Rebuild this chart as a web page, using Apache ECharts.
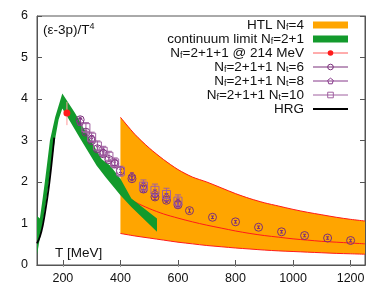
<!DOCTYPE html>
<html>
<head>
<meta charset="utf-8">
<script src="https://cdn.jsdelivr.net/npm/echarts@6/dist/echarts.min.js"></script>
<style>
html,body{margin:0;padding:0;background:#fff;}
#c{width:390px;height:293px;}
</style>
</head>
<body>
<div id="c"></div>
<script>
// ---- data ----
const xTicks = [200, 400, 600, 800, 1000, 1200];
const yTicks = [0, 1, 2, 3, 4, 5, 6];

// HTL Nf=4 band (upper / central / lower)
const htlT     = [400, 450, 500, 550, 600, 650, 700, 750, 800, 850, 900, 950, 1000, 1050, 1100, 1150, 1200, 1250];
const htlUpper = [3.56, 3.15, 2.82, 2.54, 2.30, 2.12, 2.00, 1.86, 1.72, 1.60, 1.50, 1.42, 1.34, 1.27, 1.21, 1.15, 1.10, 1.06];
const htlMid   = [1.72, 1.52, 1.36, 1.23, 1.13, 1.04, 0.96, 0.89, 0.82, 0.76, 0.71, 0.67, 0.63, 0.60, 0.57, 0.55, 0.53, 0.51];
const htlLower = [0.76, 0.70, 0.65, 0.60, 0.55, 0.51, 0.47, 0.44, 0.41, 0.385, 0.36, 0.34, 0.325, 0.31, 0.295, 0.28, 0.27, 0.26];

// continuum limit Nf=2+1 band
const contUpperT = [110, 120, 130, 138, 155, 173, 198, 242, 280, 335, 364, 400, 438, 527];
const contUpperV = [1.18, 1.12, 1.62, 2.04, 3.00, 3.56, 4.13, 3.66, 3.20, 2.55, 2.40, 2.08, 1.60, 1.12];
const contLowerT = [110, 120, 130, 140, 150, 160, 172, 185, 198, 220, 260, 317, 350, 400, 438, 527];
const contLowerV = [0.24, 0.65, 1.00, 1.45, 1.95, 2.45, 3.00, 3.50, 3.77, 3.52, 3.05, 2.40, 2.10, 1.68, 1.40, 0.80];

// HRG
const hrgT = [110, 120, 130, 140, 150, 160, 170];
const hrgV = [0.52, 0.68, 0.95, 1.35, 1.82, 2.40, 3.07];

// Nf=2+1+1 @ 214 MeV
const ptT = [214];
const ptV = [3.66];
const ptLo = [3.37];
const ptHi = [3.93];

// Nt=6
const nt6T = [260, 280, 300, 320, 340, 360, 380, 400, 440, 480, 520, 560, 600, 640, 720, 800, 880, 960, 1040, 1120, 1200];
const nt6V = [3.50, 3.20, 3.00, 2.80, 2.68, 2.54, 2.44, 2.27, 2.08, 1.83, 1.64, 1.56, 1.45, 1.31, 1.15, 1.04, 0.91, 0.80, 0.71, 0.65, 0.59];
const nt6E = [0.06, 0.05, 0.05, 0.05, 0.05, 0.05, 0.04, 0.04, 0.05, 0.06, 0.06, 0.05, 0.05, 0.04, 0.03, 0.03, 0.03, 0.03, 0.03, 0.03, 0.03];
// Nt=8
const nt8T = [260, 300, 340, 380, 440, 480, 520, 560, 600];
const nt8V = [3.45, 3.05, 2.72, 2.47, 2.14, 1.90, 1.72, 1.63, 1.50];
const nt8E = [0.08, 0.07, 0.07, 0.07, 0.08, 0.09, 0.09, 0.09, 0.09];
// Nt=10
const nt10T = [280, 300, 320, 340, 360, 380, 400, 480, 520, 560, 600];
const nt10V = [3.31, 3.08, 2.87, 2.74, 2.62, 2.46, 2.26, 1.90, 1.80, 1.70, 1.54];
const nt10E = [0.12, 0.12, 0.12, 0.12, 0.12, 0.12, 0.12, 0.15, 0.15, 0.15, 0.15];

// ---- helpers ----
const zip = (a, b) => a.map((v, i) => [v, b[i]]);
const FONT = 'Liberation Sans';

function bandRender(upperPts, lowerPts, fill) {
  return function (params, api) {
    if (params.dataIndex !== 0) return;
    const pts = [];
    upperPts.forEach(p => pts.push(api.coord(p)));
    for (let i = lowerPts.length - 1; i >= 0; i--) pts.push(api.coord(lowerPts[i]));
    return { type: 'polygon', shape: { points: pts }, style: { fill: fill } };
  };
}
function errRender(color, cap) {
  return function (params, api) {
    const x = api.value(0), lo = api.value(1), hi = api.value(2);
    const a = api.coord([x, hi]), b = api.coord([x, lo]);
    const st = { stroke: color, lineWidth: 1 };
    return { type: 'group', children: [
      { type: 'line', shape: { x1: a[0], y1: a[1], x2: b[0], y2: b[1] }, style: st },
      { type: 'line', shape: { x1: a[0] - cap, y1: a[1], x2: a[0] + cap, y2: a[1] }, style: st },
      { type: 'line', shape: { x1: b[0] - cap, y1: b[1], x2: b[0] + cap, y2: b[1] }, style: st }
    ]};
  };
}
const errData = (T, V, E) => T.map((t, i) => [t, V[i] - E[i], V[i] + E[i]]);

const C6 = '#7b2f7b', C8 = '#86388a', C10 = '#a060a0';
const pentagon = 'path://M0,-10L9.51,-3.09L5.88,8.09L-5.88,8.09L-9.51,-3.09Z';

const names = {
  htl: 'HTL Nf=4', cont: 'continuum limit Nf=2+1', pt: 'Nf=2+1+1 @ 214 MeV',
  n6: 'Nf=2+1+1 Nt=6', n8: 'Nf=2+1+1 Nt=8', n10: 'Nf=2+1+1 Nt=10', hrg: 'HRG'
};
const rich = {};
rich[names.htl] = '{a|HTL N}{s|f}{a|=4}';
rich[names.cont] = '{a|continuum limit N}{s|f}{a|=2+1}';
rich[names.pt] = '{a|N}{s|f}{a|=2+1+1 @ 214 MeV}';
rich[names.n6] = '{a|N}{s|f}{a|=2+1+1 N}{s|t}{a|=6}';
rich[names.n8] = '{a|N}{s|f}{a|=2+1+1 N}{s|t}{a|=8}';
rich[names.n10] = '{a|N}{s|f}{a|=2+1+1 N}{s|t}{a|=10}';
rich[names.hrg] = '{a|HRG}';

const chart = echarts.init(document.getElementById('c'), null, { renderer: 'canvas' });
const axisCol = '#555';
const openSym = c => ({ color: 'rgba(255,255,255,0)', borderColor: c, borderWidth: 1, opacity: 1 });

const option = {
  animation: false,
  backgroundColor: '#fff',
  textStyle: { fontFamily: FONT },
  title: [
    { text: '{a|(ε-3p)/T}{p|4}', left: 43, top: 22, padding: 0,
      textStyle: { fontWeight: 'normal', rich: {
        a: { fontFamily: FONT, fontSize: 13.5, fontWeight: 'normal', color: '#111' },
        p: { fontFamily: FONT, fontSize: 9, fontWeight: 'normal', color: '#111', padding: [0, 0, 8, 0] } } } },
    { text: 'T [MeV]', left: 55, top: 246, padding: 0,
      textStyle: { fontFamily: FONT, fontSize: 13.5, fontWeight: 'normal', color: '#111' } }
  ],
  grid: { left: 37, right: 25, top: 16, bottom: 28, show: true, borderColor: axisCol, borderWidth: 1, backgroundColor: 'transparent' },
  legend: {
    right: 41, top: 18, orient: 'vertical', align: 'right', padding: 0,
    itemWidth: 35, itemHeight: 7, itemGap: 0,
    selectedMode: false,
    formatter: n => rich[n],
    textStyle: {
      padding: [0, 4, 0, 0],
      rich: {
        a: { fontFamily: FONT, fontSize: 13.5, color: '#111', lineHeight: 13.8 },
        s: { fontFamily: FONT, fontSize: 9, color: '#111', lineHeight: 8, padding: [5, 0, 0, 0] }
      }
    },
    data: [
      { name: names.htl, icon: 'rect', itemStyle: { color: '#ffa500' } },
      { name: names.cont, icon: 'rect', itemStyle: { color: '#139a2c' } },
      { name: names.pt, lineStyle: { color: '#ff5a5a', width: 1, opacity: 1 }, itemStyle: { color: '#ff1a1a' } },
      { name: names.n6, lineStyle: { color: C6, width: 1, opacity: 1 }, itemStyle: openSym(C6) },
      { name: names.n8, lineStyle: { color: C8, width: 1, opacity: 1 }, itemStyle: openSym(C8) },
      { name: names.n10, lineStyle: { color: C10, width: 1, opacity: 1 }, itemStyle: openSym(C10) },
      { name: names.hrg, lineStyle: { color: '#000', width: 2, opacity: 1 }, itemStyle: { opacity: 0 } }
    ]
  },
  xAxis: [
    { type: 'value', min: 110, max: 1250,
      axisLine: { show: true, lineStyle: { color: axisCol } },
      axisTick: { show: true, inside: true, length: 5, customValues: xTicks, lineStyle: { color: axisCol } },
      axisLabel: { customValues: xTicks, formatter: v => String(v), fontFamily: FONT, fontSize: 12.5, color: '#111', margin: 7 },
      splitLine: { show: false } },
    { type: 'value', min: 110, max: 1250, position: 'top',
      axisLine: { show: true, lineStyle: { color: axisCol } },
      axisTick: { show: true, inside: true, length: 2, customValues: xTicks, lineStyle: { color: '#999' } },
      axisLabel: { show: false }, splitLine: { show: false } }
  ],
  yAxis: [
    { type: 'value', min: 0, max: 6, interval: 1,
      axisLine: { show: true, lineStyle: { color: axisCol } },
      axisTick: { show: true, inside: true, length: 5, lineStyle: { color: axisCol } },
      axisLabel: { formatter: v => String(v), fontFamily: FONT, fontSize: 12.5, color: '#111', margin: 9 },
      splitLine: { show: false } },
    { type: 'value', min: 0, max: 6, interval: 1, position: 'right',
      axisLine: { show: true, lineStyle: { color: axisCol } },
      axisTick: { show: true, inside: true, length: 5, lineStyle: { color: axisCol } },
      axisLabel: { show: false }, splitLine: { show: false } }
  ],
  series: [
    { name: names.htl, type: 'custom', z: 1, clip: true, itemStyle: { color: '#ffa500' },
      data: [[htlT[0], htlUpper[0]]],
      renderItem: bandRender(zip(htlT, htlUpper), zip(htlT, htlLower), '#ffa500') },
    { name: 'htlUpperLine', type: 'line', z: 2, data: zip(htlT, htlUpper), smooth: 0.3, showSymbol: false, symbol: 'none', lineStyle: { color: '#ff1a1a', width: 1 } },
    { name: 'htlMidLine', type: 'line', z: 2, data: zip(htlT, htlMid), smooth: 0.3, showSymbol: false, symbol: 'none', lineStyle: { color: '#ff1a1a', width: 1 } },
    { name: 'htlLowerLine', type: 'line', z: 2, data: zip(htlT, htlLower), smooth: 0.3, showSymbol: false, symbol: 'none', lineStyle: { color: '#ff1a1a', width: 1 } },
    { name: names.cont, type: 'custom', z: 3, clip: true, itemStyle: { color: '#139a2c' },
      data: [[contUpperT[0], contUpperV[0]]],
      renderItem: bandRender(zip(contUpperT, contUpperV), zip(contLowerT, contLowerV), '#139a2c') },
    { name: names.hrg, type: 'line', z: 4, data: zip(hrgT, hrgV), smooth: 0.3, symbol: 'none', showSymbol: false, lineStyle: { color: '#000', width: 1.8 }, itemStyle: { color: '#000' } },
    { name: 'errPt', type: 'custom', z: 5, data: ptT.map((t, i) => [t, ptLo[i], ptHi[i]]), encode: { x: 0, y: [1, 2] }, renderItem: errRender('#ff9a9a', 0) },
    { name: 'err6', type: 'custom', z: 5, data: errData(nt6T, nt6V, nt6E), encode: { x: 0, y: [1, 2] }, renderItem: errRender(C6, 1.5) },
    { name: 'err8', type: 'custom', z: 5, data: errData(nt8T, nt8V, nt8E), encode: { x: 0, y: [1, 2] }, renderItem: errRender(C8, 2) },
    { name: 'err10', type: 'custom', z: 5, data: errData(nt10T, nt10V, nt10E), encode: { x: 0, y: [1, 2] }, renderItem: errRender(C10, 3) },
    { name: names.pt, type: 'line', z: 6, data: zip(ptT, ptV), symbol: 'circle', symbolSize: 7, showSymbol: true,
      lineStyle: { color: '#ff5a5a', width: 1, opacity: 0 }, itemStyle: { color: '#ff1a1a' } },
    { name: names.n6, type: 'line', z: 6, data: zip(nt6T, nt6V), symbol: 'circle', symbolSize: 8, showSymbol: true,
      lineStyle: { color: C6, opacity: 0 }, itemStyle: openSym(C6) },
    { name: names.n8, type: 'line', z: 6, data: zip(nt8T, nt8V), symbol: pentagon, symbolSize: 7, showSymbol: true,
      lineStyle: { color: C8, opacity: 0 }, itemStyle: openSym(C8) },
    { name: names.n10, type: 'line', z: 6, data: zip(nt10T, nt10V), symbol: 'rect', symbolSize: 8, showSymbol: true,
      lineStyle: { color: C10, opacity: 0 }, itemStyle: openSym(C10) }
  ]
};
chart.setOption(option);
</script>
</body>
</html>
